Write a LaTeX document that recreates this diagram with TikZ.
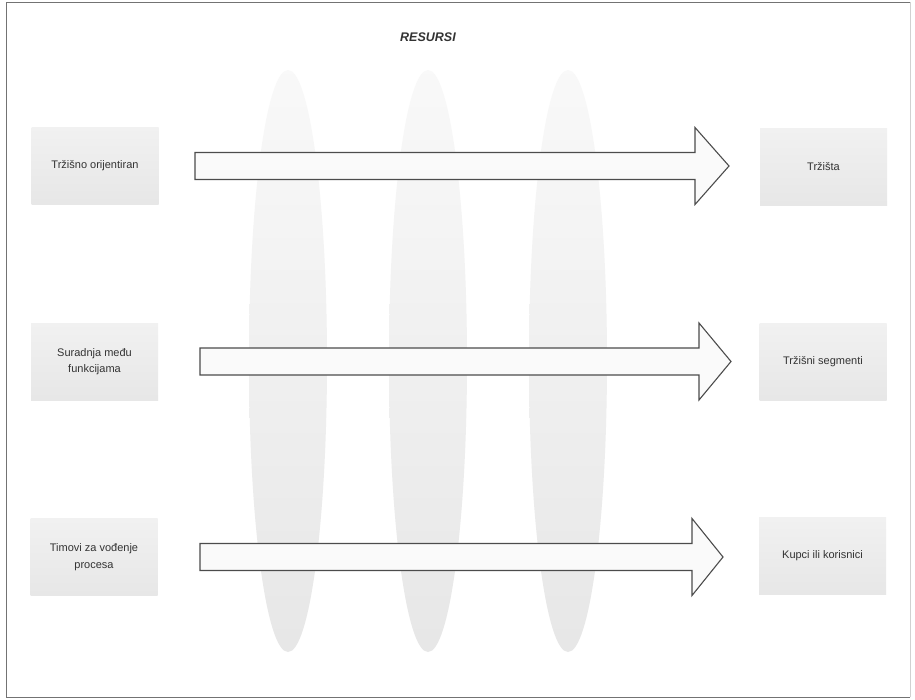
\documentclass[tikz,border=0pt]{standalone}
\usepackage{fontspec}
\setmainfont{Liberation Sans}
\usetikzlibrary{calc}
\tikzset{
  x=1pt, y=-1pt,
  box/.style={rectangle, inner sep=2pt, minimum width=127pt, minimum height=77pt,
    align=center, font=\fontsize{11}{16.5}\selectfont, text=black!80,
    top color=gray!11, bottom color=gray!19},
  lens/.style={top color=gray!5, bottom color=gray!19, draw=none},
  blk/.style={draw=black!70, line width=1.1pt, fill=gray!4, line join=miter},
  frame/.style={draw=black!55, line width=0.8pt},
  title/.style={font=\fontsize{12.5}{15}\selectfont\bfseries\itshape, text=black!80}
}
\newcommand\blockarr[3]{%
  \draw[blk] ($(#1)+(0,-13.5)$) -- ($(#2)+(-#3,-13.5)$) -- ($(#2)+(-#3,-38.5)$) -- (#2)
    -- ($(#2)+(-#3,38.5)$) -- ($(#2)+(-#3,13.5)$) -- ($(#1)+(0,13.5)$) -- cycle;}
\begin{document}
\begin{tikzpicture}
\useasboundingbox (0,0) rectangle (915,699);
\fill[white] (0,0) rectangle (915,699);
% frame
\draw[frame] (910,697) -- (6,697) -- (6,2) -- (910,2);
\draw[draw=black!18, line width=0.6pt] (910,2) -- (910,697);
% resource lenses
\shade[lens] (288,361) ellipse [x radius=39, y radius=291];
\shade[lens] (428,361) ellipse [x radius=39, y radius=291];
\shade[lens] (568,361) ellipse [x radius=39, y radius=291];
% title
\node[title] (res) at (428,37) {RESURSI};
% left boxes
\node[box] (l1) at (95,165.5) {Tržišno orijentiran};
\node[box] (l2) at (94.5,361.5) {Suradnja među\\funkcijama};
\node[box] (l3) at (94,557) {Timovi za vođenje\\procesa};
% right boxes
\node[box] (r1) at (823.5,167) {Tržišta};
\node[box] (r2) at (823,361.5) {Tržišni segmenti};
\node[box] (r3) at (822.5,556) {Kupci ili korisnici};
% arrows
\coordinate (a1s) at (195,166);
\coordinate (a1t) at (729,166);
\coordinate (a2s) at (200,361.5);
\coordinate (a2t) at (731,361.5);
\coordinate (a3s) at (200,557);
\coordinate (a3t) at (723,557);
\blockarr{a1s}{a1t}{34}
\blockarr{a2s}{a2t}{32}
\blockarr{a3s}{a3t}{31}
\end{tikzpicture}
\end{document}
